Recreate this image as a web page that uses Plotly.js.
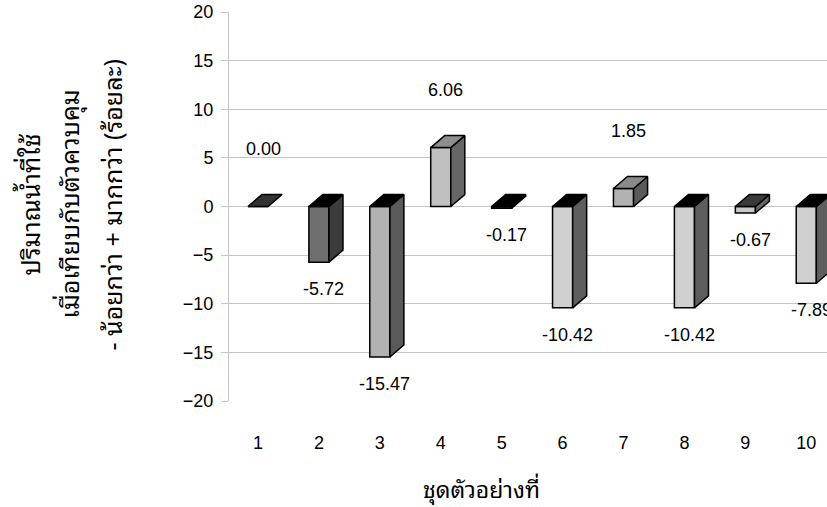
<!DOCTYPE html>
<html><head><meta charset="utf-8">
<script src="https://cdn.plot.ly/plotly-3.0.1.min.js"></script>
<style>html,body{margin:0;padding:0;background:#fff}#chart{width:827px;height:507px}</style>
</head><body><div id="chart"></div>
<script>
// ---- data ----
const categories = ['1','2','3','4','5','6','7','8','9','10'];
const values = [0.00, -5.72, -15.47, 6.06, -0.17, -10.42, 1.85, -10.42, -0.67, -7.89];
const yTickVals = [-20, -15, -10, -5, 0, 5, 10, 15, 20];
const xTitle = 'ชุดตัวอย่างที่';
const yTitleLines = ['ปริมาณน้ำที่ใช้', 'เมื่อเทียบกับตัวควบคุม', '- น้อยกว่า + มากกว่า (ร้อยละ)'];

// ---- styles ----
const frontColors = ['#333333','#6e6e6e','#b2b2b2','#c0c0c0','#4a4a4a','#d0d0d0','#b2b2b2','#d0d0d0','#c8c8c8','#d0d0d0'];
const sideColors  = ['#333333','#3c3c3c','#5a5a5a','#666666','#333333','#5e5e5e','#5a5a5a','#5e5e5e','#666666','#5e5e5e'];
const topColors   = ['#333333','#000000','#000000','#8e8e8e','#000000','#000000','#8a8a8a','#000000','#3a3a3a','#000000'];

const W = 0.33, DX = 0.23, DY = 1.23;
const xs = categories.map((c, i) => i + 1);
const thaiFont = 'Tahoma, "Noto Sans Thai Looped", Garuda, Loma, "Noto Sans Thai", "DejaVu Sans", sans-serif';
const latin = 'Liberation Sans, Arial, sans-serif';

const traces = [];
traces.push({
  type: 'bar', x: xs, y: values, base: 0, width: W,
  marker: {color: frontColors, line: {color: '#000', width: 1.5}},
  hoverinfo: 'skip', showlegend: false
});
values.forEach((v, i) => {
  const x0 = xs[i] - W / 2, x1 = xs[i] + W / 2;
  const lo = Math.min(v, 0), hi = Math.max(v, 0);
  if (hi - lo > 0) {
    traces.push({
      type: 'scatter', mode: 'lines', fill: 'toself',
      x: [x1, x1, x1 + DX, x1 + DX, x1],
      y: [lo, hi, hi + DY, lo + DY, lo],
      fillcolor: sideColors[i], line: {color: '#000', width: 1.5},
      hoverinfo: 'skip', showlegend: false
    });
  }
  traces.push({
    type: 'scatter', mode: 'lines', fill: 'toself',
    x: [x0, x1, x1 + DX, x0 + DX, x0],
    y: [hi, hi, hi + DY, hi + DY, hi],
    fillcolor: topColors[i], line: {color: '#000', width: 1.5},
    hoverinfo: 'skip', showlegend: false
  });
});

const annotations = values.map((v, i) => ({
  x: xs[i], y: v >= 0 ? v + DY : v, xref: 'x', yref: 'y',
  text: v.toFixed(2), showarrow: false,
  xshift: 5, yshift: v >= 0 ? 46 : -27,
  font: {family: latin, size: 18, color: '#000'}
}));
const yOff = [-201, -162, -119];
yTitleLines.forEach((t, k) => annotations.push({
  x: 0, y: 0.5, xref: 'paper', yref: 'paper', xanchor: 'center', yanchor: 'middle',
  xshift: yOff[k], yshift: 2,
  text: t, textangle: -90, showarrow: false,
  font: {family: thaiFont, size: 25, color: '#000'}
}));
annotations.push({
  x: 0.422, y: 0, xref: 'paper', yref: 'paper', xanchor: 'center', yanchor: 'middle',
  yshift: -86,
  text: xTitle, showarrow: false,
  font: {family: thaiFont, size: 23, color: '#000'}
});

const layout = {
  width: 827, height: 507,
  margin: {l: 229, r: 0, t: 12, b: 106},
  paper_bgcolor: '#fff', plot_bgcolor: '#fff',
  showlegend: false,
  xaxis: {
    range: [0.524, 10.34], tickvals: xs, ticktext: categories,
    showgrid: false, zeroline: false, showline: false, ticks: '',
    ticklabelstandoff: 29,
    tickfont: {family: latin, size: 18, color: '#000'}
  },
  yaxis: {
    range: [-20, 20], tickvals: yTickVals,
    showgrid: true, gridcolor: '#c4c4c4', gridwidth: 1,
    zeroline: false, showline: true, linecolor: '#c4c4c4', linewidth: 1,
    ticks: 'outside', ticklen: 7, tickcolor: '#c4c4c4',
    ticklabelstandoff: 4,
    tickfont: {family: latin, size: 18, color: '#000'}
  },
  annotations: annotations
};
Plotly.newPlot('chart', traces, layout, {displayModeBar: false, staticPlot: true});
</script></body></html>
